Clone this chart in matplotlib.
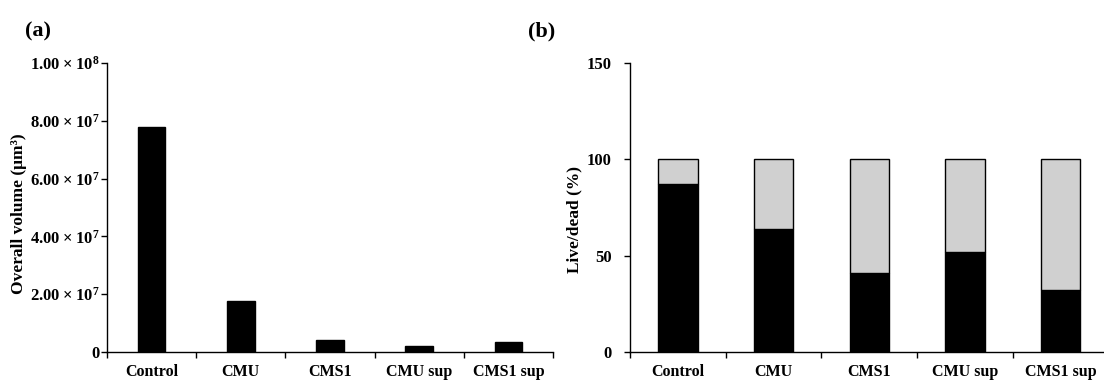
import numpy as np
import matplotlib.pyplot as plt

# data
groups = ["Control", "CMU", "CMS1", "CMU sup", "CMS1 sup"]
volume = [7.78e7, 1.76e7, 4.0e6, 2.2e6, 3.5e6]
live = [87, 64, 41, 52, 32]
dead = [100 - v for v in live]

vol_ticks = [0, 2e7, 4e7, 6e7, 8e7, 1e8]
vol_ticklabels = ["0",
                  r"$\mathbf{2.00\times10^{7}}$",
                  r"$\mathbf{4.00\times10^{7}}$",
                  r"$\mathbf{6.00\times10^{7}}$",
                  r"$\mathbf{8.00\times10^{7}}$",
                  r"$\mathbf{1.00\times10^{8}}$"]
pct_ticks = [0, 50, 100, 150]

plt.rcParams['font.family'] = ['Liberation Serif', 'DejaVu Serif']
plt.rcParams['font.weight'] = 'bold'
plt.rcParams['mathtext.fontset'] = 'custom'
plt.rcParams['mathtext.rm'] = 'Liberation Serif'
plt.rcParams['mathtext.bf'] = 'Liberation Serif:bold'

fig = plt.figure(figsize=(11.04, 3.86), dpi=100)
ax1 = fig.add_axes([0.0969, 0.0881, 0.404, 0.7487])
ax2 = fig.add_axes([0.5707, 0.0881, 0.4334, 0.7487])

x = np.arange(len(groups))


def style_axis(ax, ypad):
    for s in ["top", "right"]:
        ax.spines[s].set_visible(False)
    for s in ["left", "bottom"]:
        ax.spines[s].set_linewidth(1.0)
    ax.set_xlim(-0.5, len(groups) - 0.5)
    # ticks between the groups, labels at the centres
    ax.set_xticks(np.arange(len(groups) + 1) - 0.5)
    ax.set_xticklabels([])
    ax.set_xticks(x, minor=True)
    ax.set_xticklabels(groups, minor=True, fontsize=11.5, fontweight='bold')
    ax.tick_params(axis='x', which='major', direction='out', length=4, width=1)
    ax.tick_params(axis='x', which='minor', length=0, pad=9)
    ax.tick_params(axis='y', direction='out', length=4, width=1, labelsize=12, pad=ypad)


# (a) overall volume
ax1.bar(x, volume, width=0.31, color='black', edgecolor='black')
style_axis(ax1, 1)
ax1.set_ylim(0, 1e8)
ax1.set_yticks(vol_ticks)
ax1.set_yticklabels(vol_ticklabels, fontweight='bold')
ax1.set_ylabel("Overall volume (μm³)", fontsize=12.5, fontweight='bold')
ax1.yaxis.set_label_coords(-0.18, 0.48)

# (b) live/dead stacked
ax2.bar(x, live, width=0.41, color='black', edgecolor='black', linewidth=1)
ax2.bar(x, dead, bottom=live, width=0.41, color='#d0d0d0', edgecolor='black', linewidth=1)
style_axis(ax2, 9)
ax2.set_ylim(0, 150)
ax2.set_yticks(pct_ticks)
ax2.set_yticklabels([str(t) for t in pct_ticks], fontweight='bold')
ax2.set_ylabel("Live/dead (%)", fontsize=12.5, fontweight='bold')
ax2.yaxis.set_label_coords(-0.10, 0.46)

fig.text(0.023, 0.905, "(a)", fontsize=16, fontweight='bold')
fig.text(0.478, 0.905, "(b)", fontsize=16, fontweight='bold')

fig.savefig("out.png", dpi=100)
